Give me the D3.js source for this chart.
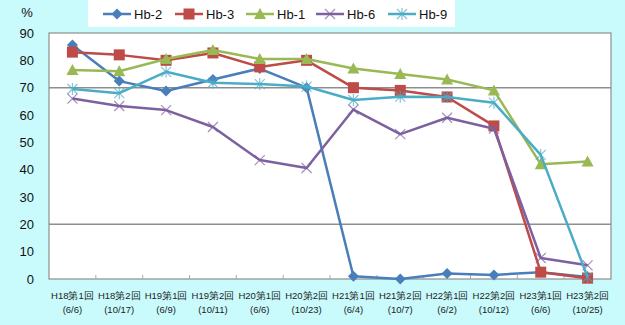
<!DOCTYPE html>
<html><head><meta charset="utf-8">
<script src="https://cdn.jsdelivr.net/npm/d3@7"></script>
<style>
html,body{margin:0;padding:0;background:#c9fbfc;}
svg{display:block;font-family:"Liberation Sans",Arial,sans-serif;}
</style></head><body>
<svg id="c" width="625" height="325"></svg>
<script>
const categories = ["H18第1回","H18第2回","H19第1回","H19第2回","H20第1回","H20第2回","H21第1回","H21第2回","H22第1回","H22第2回","H23第1回","H23第2回"];
const dates = ["(6/6)","(10/17)","(6/9)","(10/11)","(6/6)","(10/23)","(6/4)","(10/7)","(6/2)","(10/12)","(6/6)","(10/25)"];
const seriesNames = ["Hb-2","Hb-3","Hb-1","Hb-6","Hb-9"];
const hb2 = [85.6,72.4,68.8,73,77,70,1,0,2,1.5,2.5,0.7];
const hb3 = [83,82,80,82.7,77.6,80,70,69,66.6,56,2.5,0.3];
const hb1 = [76.5,76,80.5,83.8,80.5,80.5,77,75,73,69,42,43];
const hb6 = [66,63.3,61.8,55.6,43.5,40.6,62,53,59,55,7.7,5];
const hb9 = [69.5,68,75.8,71.8,71.3,70.4,65.5,66.7,66.6,64.5,45.4,0.7];
const yTicks = [0,10,20,30,40,50,60,70,80,90];
const refLines = [20,70];
const colors = ["#4a7ebb","#be4b48","#98b954","#7d60a0","#4bacc6"];
const markers = ["diamond","square","triangle","x","star"];
const values = [hb2,hb3,hb1,hb6,hb9];

const svg = d3.select("#c");
const L=49, R=611, T=33, B=279;
const x = d3.scaleBand().domain(categories).range([L,R]);
const y = d3.scaleLinear().domain([0,90]).range([B,T]);

svg.append("rect").attr("x",L).attr("y",T).attr("width",R-L).attr("height",B-T).attr("fill","#fff").attr("stroke","#8e8e8e").attr("stroke-width",1.2);

svg.selectAll(".ref").data(refLines).enter().append("line")
 .attr("x1",L).attr("x2",R).attr("y1",d=>y(d)).attr("y2",d=>y(d))
 .attr("stroke","#8e8e8e").attr("stroke-width",1.5);

// x ticks (inside)
svg.selectAll(".xt").data(categories.slice(1)).enter().append("line")
 .attr("x1",d=>x(d)).attr("x2",d=>x(d)).attr("y1",B).attr("y2",B-4)
 .attr("stroke","#aaa").attr("stroke-width",1);

// y labels
svg.selectAll(".yl").data(yTicks).enter().append("text")
 .attr("x",34).attr("y",d=>y(d)).attr("dy","0.36em").attr("text-anchor","end")
 .attr("font-size",13).attr("fill","#111").text(d=>d);

svg.append("text").attr("x",27).attr("y",17).attr("text-anchor","middle").attr("font-size",13).attr("fill","#111").text("%");

// x labels
const xl = svg.selectAll(".xl").data(categories).enter().append("text")
 .attr("x",d=>x(d)+x.bandwidth()/2).attr("text-anchor","middle").attr("font-size",9.5).attr("fill","#222");
xl.append("tspan").attr("x",d=>x(d)+x.bandwidth()/2).attr("y",299).text(d=>d);
xl.append("tspan").attr("x",d=>x(d)+x.bandwidth()/2).attr("y",313).text((d,i)=>dates[i]);

function drawMarker(g, type, color){
  if(type==="diamond") g.append("path").attr("d","M0,-5.5L5.5,0L0,5.5L-5.5,0Z").attr("fill",color);
  else if(type==="square") g.append("rect").attr("x",-5.5).attr("y",-5.5).attr("width",11).attr("height",11).attr("fill",color);
  else if(type==="triangle") g.append("path").attr("d","M0,-6L6,5L-6,5Z").attr("fill",color);
  else if(type==="x") g.append("path").attr("d","M-5,-5L5,5M5,-5L-5,5").attr("stroke",color).attr("stroke-width",1.2).attr("fill","none").attr("opacity",0.7);
  else if(type==="star") g.append("path").attr("d","M-5,-5L5,5M5,-5L-5,5M0,-6L0,6").attr("stroke",color).attr("stroke-width",1.2).attr("fill","none").attr("opacity",0.7);
}

const line = d3.line().x((d,i)=>x(categories[i])+x.bandwidth()/2).y(d=>y(d));
values.forEach((vals,s)=>{
  const g = svg.append("g");
  g.append("path").attr("d",line(vals)).attr("fill","none").attr("stroke",colors[s]).attr("stroke-width",2.5).attr("stroke-linejoin","round");
  vals.forEach((v,i)=>{
    const m = g.append("g").attr("transform",`translate(${x(categories[i])+x.bandwidth()/2},${y(v)})`);
    drawMarker(m, markers[s], colors[s]);
  });
});

// legend
svg.append("rect").attr("x",88).attr("y",-1).attr("width",367).attr("height",28).attr("fill","#fff");
const legX = [103,175,246,316,388];
seriesNames.forEach((n,s)=>{
  const g = svg.append("g").attr("transform",`translate(${legX[s]},14)`);
  g.append("line").attr("x1",0).attr("x2",28).attr("stroke",colors[s]).attr("stroke-width",2.5);
  const m = g.append("g").attr("transform","translate(14,0)");
  drawMarker(m, markers[s], colors[s]);
  g.append("text").attr("x",31).attr("y",0).attr("dy","0.36em").attr("font-size",13).attr("fill","#111").text(n);
});
</script>
</body></html>
